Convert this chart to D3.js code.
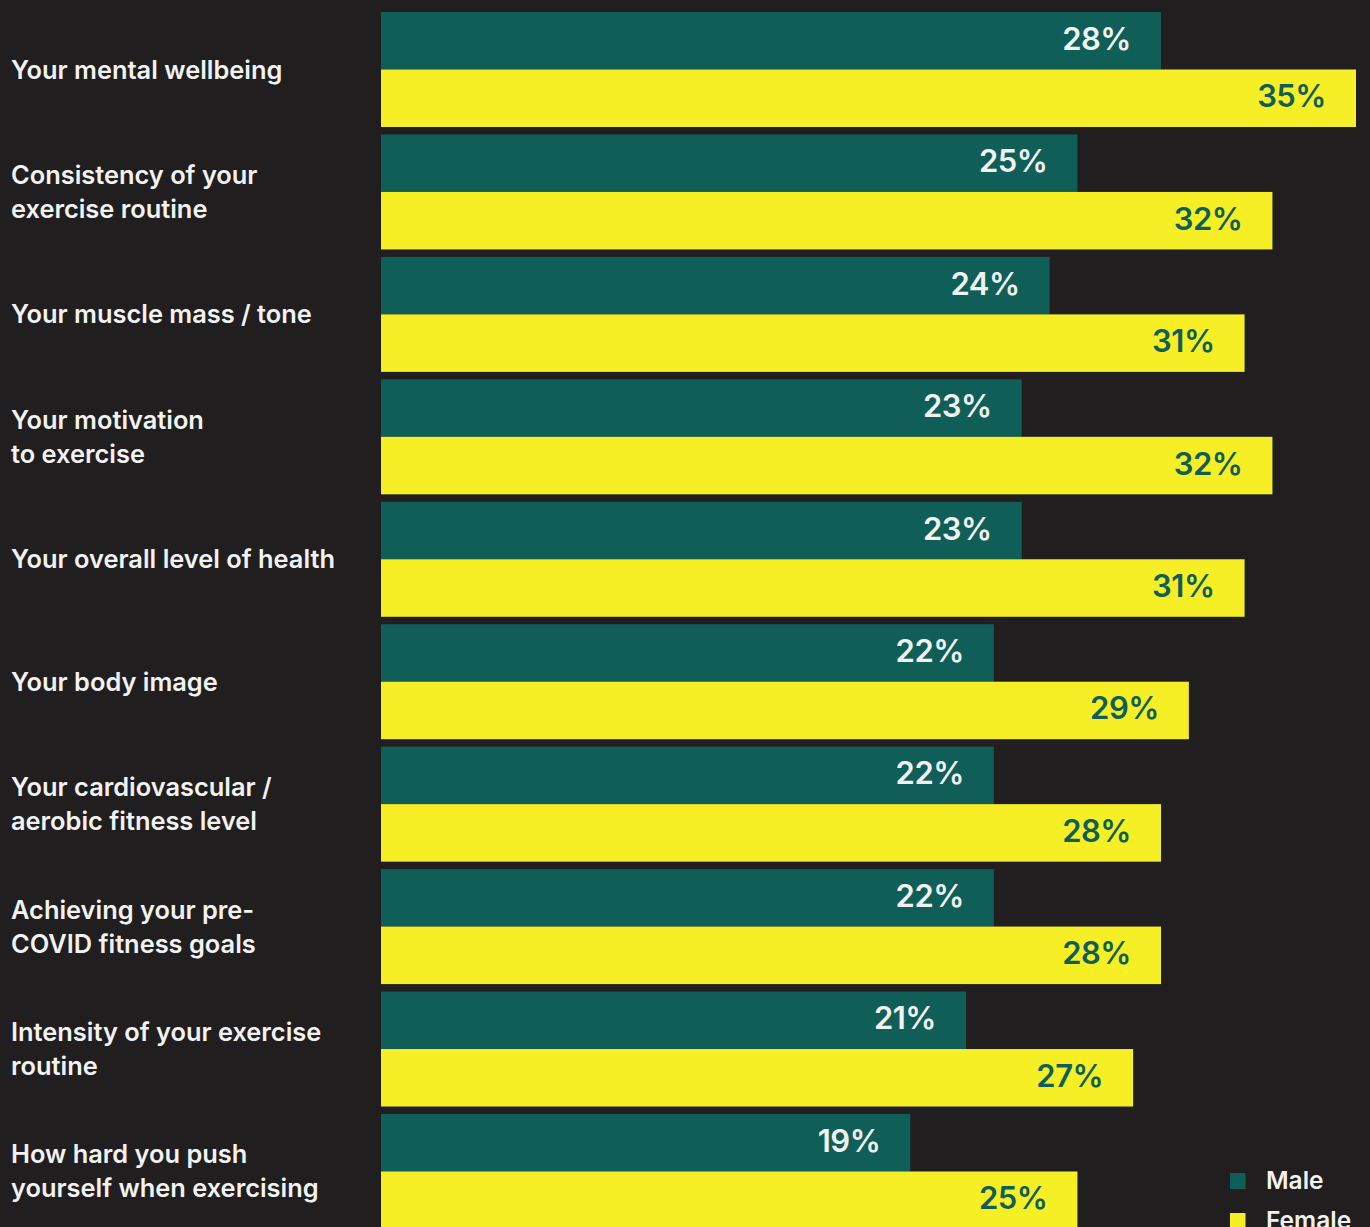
<!DOCTYPE html>
<html>
<head>
<meta charset="utf-8">
<script src="https://cdn.jsdelivr.net/npm/d3@7"></script>
<style>
  html, body { margin: 0; padding: 0; background: #201e1f; overflow: hidden; }
  svg { display: block; }
  text { font-family: Inter, "Noto Sans", sans-serif; }
</style>
</head>
<body>
<svg id="chart" width="1370" height="1227"></svg>
<script>
// Survey categories (each entry is one label, split into its lines)
const categories = [
  ["Your mental wellbeing"],
  ["Consistency of your", "exercise routine"],
  ["Your muscle mass / tone"],
  ["Your motivation", "to exercise"],
  ["Your overall level of health"],
  ["Your body image"],
  ["Your cardiovascular /", "aerobic fitness level"],
  ["Achieving your pre-", "COVID fitness goals"],
  ["Intensity of your exercise", "routine"],
  ["How hard you push", "yourself when exercising"]
];
const seriesNames = ["Male", "Female"];
const maleValues = [28, 25, 24, 23, 23, 22, 22, 22, 21, 19];
const femaleValues = [35, 32, 31, 32, 31, 29, 28, 28, 27, 25];

const colors = { Male: "#0f5e57", Female: "#f7ef25" };
const valueTextColors = { Male: "#f2f2f2", Female: "#0f5e57" };

const svg = d3.select("#chart");
const W = 1370, H = 1227;
svg.append("rect").attr("width", W).attr("height", H).attr("fill", "#201e1f");

const ids = categories.map((c, i) => i);
const step = 122.44, gap = 7.44;
const y0 = d3.scaleBand()
  .domain(ids)
  .range([12, 12 + ids.length * step - gap])
  .paddingInner(gap / step)
  .paddingOuter(0);
const y1 = d3.scaleBand().domain(seriesNames).range([0, y0.bandwidth()]);
const x = d3.scaleLinear().domain([0, 35]).range([381, 1356]);

const rows = ids.map(i => ({
  i,
  label: categories[i],
  values: [
    { key: "Male", value: maleValues[i] },
    { key: "Female", value: femaleValues[i] }
  ]
}));

const g = svg.selectAll("g.row").data(rows).join("g")
  .attr("class", "row")
  .attr("transform", d => `translate(0,${y0(d.i)})`);

// Bars
g.selectAll("rect.bar").data(d => d.values).join("rect")
  .attr("class", "bar")
  .attr("x", x(0))
  .attr("y", d => y1(d.key))
  .attr("width", d => x(d.value) - x(0))
  .attr("height", y1.bandwidth())
  .attr("fill", d => colors[d.key]);

// Value labels inside bar ends
g.selectAll("text.val").data(d => d.values).join("text")
  .attr("class", "val")
  .attr("x", d => x(d.value) - 30)
  .attr("y", d => y1(d.key) + y1.bandwidth() / 2 + 9)
  .attr("text-anchor", "end")
  .attr("font-size", 31)
  .attr("font-weight", 600)
  .attr("letter-spacing", -0.5)
  .attr("fill", d => valueTextColors[d.key])
  .text(d => d.value + "%");

// Category labels
const lineH = 34;
g.append("text")
  .attr("class", "cat")
  .attr("font-size", 25.4)
  .attr("font-weight", 600)
  .attr("fill", "#f2f2f2")
  .each(function(d) {
    const t = d3.select(this);
    const n = d.label.length;
    const mid = y0.bandwidth() / 2;
    d.label.forEach((line, k) => {
      t.append("tspan")
        .attr("x", 11)
        .attr("y", mid + (k - (n - 1) / 2) * lineH + 9)
        .text(line);
    });
  });

// Legend
const legend = svg.append("g").attr("transform", "translate(1230,1173)");
const li = legend.selectAll("g").data(seriesNames).join("g")
  .attr("transform", (d, i) => `translate(0,${i * 40})`);
li.append("rect").attr("width", 15.5).attr("height", 16).attr("fill", d => colors[d]);
li.append("text")
  .attr("x", 36).attr("y", 15.5)
  .attr("font-size", 24.5).attr("font-weight", 600)
  .attr("fill", "#f2f2f2")
  .text(d => d);
</script>
</body>
</html>
